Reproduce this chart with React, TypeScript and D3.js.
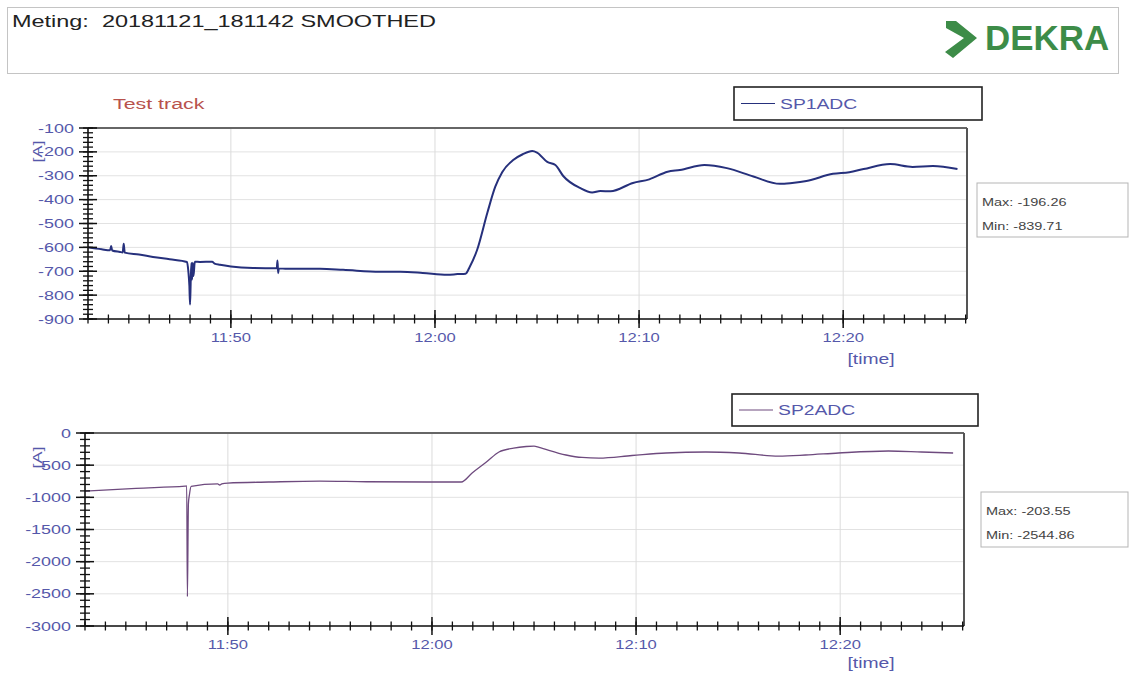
import React from 'react';
import * as d3 from 'd3';

const sp1Times = [
  '11:43:00', '11:43:40', '11:44:05', '11:44:08', '11:44:11', '11:44:34', '11:44:42', '11:44:45', '11:44:48',
  '11:45:30', '11:46:11', '11:47:00', '11:47:51', '11:47:55', '11:47:58', '11:48:00', '11:48:02', '11:48:04',
  '11:48:06', '11:48:08', '11:48:10', '11:48:14', '11:48:29', '11:49:05', '11:49:12', '11:49:28', '11:50:00',
  '11:51:05', '11:52:15', '11:52:17', '11:52:19', '11:52:21', '11:52:45', '11:54:22', '11:55:30', '11:57:18',
  '11:58:18', '11:59:24', '12:00:36', '12:01:06', '12:01:30', '12:01:42', '12:02:04', '12:02:34', '12:02:57',
  '12:03:18', '12:03:50', '12:04:18', '12:04:46', '12:05:00', '12:05:30', '12:05:54', '12:06:17', '12:07:06',
  '12:07:42', '12:08:06', '12:08:36', '12:09:42', '12:10:30', '12:11:24', '12:12:00', '12:13:12', '12:14:18',
  '12:15:36', '12:16:54', '12:17:30', '12:18:12', '12:19:30', '12:20:18', '12:21:00', '12:22:18', '12:23:24',
  '12:24:24', '12:25:36',
];
const sp1Values = [
  -600, -608, -612, -594, -613, -619, -621, -585, -622,
  -630, -640, -650, -661, -700, -760, -839.71, -740, -665,
  -735, -664, -720, -660, -661, -660, -668, -673, -680,
  -686, -687, -655, -708, -688, -690, -690, -694, -702,
  -702, -707, -715, -712, -710, -682, -610, -455, -347,
  -284, -234, -210, -196.26, -203, -242, -255, -301, -351,
  -370, -364, -365, -330, -315, -283, -276, -255, -268,
  -303, -334, -330, -322, -292, -285, -272, -251, -263,
  -259, -272,
];

const sp2Times = [
  '11:43:00', '11:45:30', '11:47:54', '11:47:59', '11:48:01', '11:48:04', '11:48:07', '11:48:12', '11:49:30',
  '11:49:36', '11:49:42', '11:50:00', '11:52:00', '11:54:30', '11:56:47', '12:00:01', '12:01:26', '12:01:58',
  '12:02:40', '12:03:17', '12:04:00', '12:04:37', '12:05:00', '12:05:15', '12:06:34', '12:07:21', '12:08:11',
  '12:09:48', '12:11:28', '12:13:25', '12:15:02', '12:16:59', '12:18:18', '12:19:55', '12:22:22', '12:23:59',
  '12:25:32',
];
const sp2Values = [
  -902, -860, -826, -824, -2544.86, -1100, -960, -830, -792,
  -808, -790, -778, -762, -748, -758, -762, -762, -622,
  -451, -295, -235, -210, -203.55, -225, -342, -380, -389,
  -350, -311, -295, -311, -358, -342, -311, -280, -295,
  -311,
];

const xTickLabels = ['11:50', '12:00', '12:10', '12:20'];
const sp1YTicks = [-100, -200, -300, -400, -500, -600, -700, -800, -900];
const sp2YTicks = [0, -500, -1000, -1500, -2000, -2500, -3000];

const FONT = 'Liberation Sans, Arial, sans-serif';
const STRETCH = 1.38;
const LABEL = '#5558aa';

const parse = d3.timeParse('%H:%M:%S');
const xDomain: [Date, Date] = [parse('11:43:00')!, parse('12:26:04')!];

const T = ({ x, y, size, fill, anchor = 'start', weight = 'normal', sx = STRETCH, rotate = 0, children }: any) => (
  <text
    transform={`translate(${x},${y}) rotate(${rotate}) scale(${sx},1)`}
    fontFamily={FONT}
    fontSize={size}
    fill={fill}
    textAnchor={anchor}
    fontWeight={weight}
  >
    {children}
  </text>
);

interface PanelProps {
  left: number; right: number; top: number; bottom: number;
  yDomain: [number, number];
  yTicks: number[];
  yMinorStep: number;
  times: string[];
  values: number[];
  color: string;
  lineWidth: number;
  name: string;
  legend: { x: number; y: number; w: number; h: number };
  stats: { x: number; y: number; w: number; h: number };
  timeLabelY: number;
}

const Panel = (p: PanelProps) => {
  const x = d3.scaleTime().domain(xDomain).range([p.left, p.right]);
  const y = d3.scaleLinear().domain(p.yDomain).range([p.bottom, p.top]);
  const pts = p.times.map((t, i) => ({ t: parse(t)!, v: p.values[i] }));
  const line = d3.line<{ t: Date; v: number }>()
    .x(d => x(d.t))
    .y(d => y(d.v))
    .curve(d3.curveMonotoneX);
  const minorX = d3.timeMinute.every(1)!.range(xDomain[0], xDomain[1]);
  const minorY = d3.range(p.yDomain[0], p.yDomain[1] + 0.001, p.yMinorStep);
  const majorX = xTickLabels.map(l => parse(l + ':00')!);
  const vmax = d3.max(p.values)!;
  const vmin = d3.min(p.values)!;

  return (
    <g>
      {/* grid */}
      {p.yTicks.map(v => (
        <line key={'gy' + v} x1={p.left} x2={p.right} y1={y(v)} y2={y(v)} stroke="#e2e2e2" strokeWidth={1} />
      ))}
      {majorX.map((d, i) => (
        <line key={'gx' + i} x1={x(d)} x2={x(d)} y1={p.top} y2={p.bottom} stroke="#dcdcdc" strokeWidth={1} />
      ))}
      {/* frame */}
      <line x1={p.left} x2={p.right} y1={p.top} y2={p.top} stroke="#666" strokeWidth={2} />
      <line x1={p.right} x2={p.right} y1={p.top} y2={p.bottom} stroke="#555" strokeWidth={2} />

      {/* series */}
      <path d={line(pts) || ''} fill="none" stroke={p.color} strokeWidth={p.lineWidth} strokeLinejoin="round" />

      {/* axes */}
      <line x1={p.left} x2={p.left} y1={p.top} y2={p.bottom} stroke="#111" strokeWidth={1.6} />
      <line x1={p.left} x2={p.right} y1={p.bottom} y2={p.bottom} stroke="#111" strokeWidth={1.6} />
      {minorY.map(v => (
        <line key={'my' + v} x1={p.left - 5} x2={p.left + 5} y1={y(v)} y2={y(v)} stroke="#111" strokeWidth={1.3} />
      ))}
      {p.yTicks.map(v => (
        <line key={'My' + v} x1={p.left - 9} x2={p.left + 9} y1={y(v)} y2={y(v)} stroke="#111" strokeWidth={1.5} />
      ))}
      {minorX.map((d, i) => (
        <line key={'mx' + i} x1={x(d)} x2={x(d)} y1={p.bottom - 4.5} y2={p.bottom + 4.5} stroke="#111" strokeWidth={1.3} />
      ))}
      {majorX.map((d, i) => (
        <line key={'Mx' + i} x1={x(d)} x2={x(d)} y1={p.bottom - 9} y2={p.bottom + 9} stroke="#111" strokeWidth={1.5} />
      ))}

      {/* tick labels */}
      {p.yTicks.map(v => (
        <T key={'ly' + v} x={p.left - 14} y={y(v) + 4.5} size={13} fill={LABEL} anchor="end">{String(v)}</T>
      ))}
      {majorX.map((d, i) => (
        <T key={'lx' + i} x={x(d)} y={p.bottom + 23} size={12} fill={LABEL} anchor="middle">{xTickLabels[i]}</T>
      ))}
      <T x={871} y={p.timeLabelY} size={14} fill={LABEL} anchor="middle">[time]</T>
      <T x={42} y={(p.top + p.bottom) / 2 - 72} size={13} fill={LABEL} anchor="middle" rotate={-90}>[A]</T>

      {/* legend */}
      <rect x={p.legend.x} y={p.legend.y} width={p.legend.w} height={p.legend.h} fill="#fff" stroke="#222" strokeWidth={1.6} />
      <line x1={p.legend.x + 7} x2={p.legend.x + 41} y1={p.legend.y + p.legend.h / 2} y2={p.legend.y + p.legend.h / 2} stroke={p.color} strokeWidth={1.2} />
      <T x={p.legend.x + 46} y={p.legend.y + p.legend.h / 2 + 5} size={14} fill={LABEL}>{p.name}</T>

      {/* max / min box */}
      <rect x={p.stats.x} y={p.stats.y} width={p.stats.w} height={p.stats.h} fill="#fff" stroke="#b5b5b5" strokeWidth={1} />
      <T x={p.stats.x + 5} y={p.stats.y + 23} size={10.5} fill="#444">{`Max: ${vmax.toFixed(2)}`}</T>
      <T x={p.stats.x + 5} y={p.stats.y + 47} size={10.5} fill="#444">{`Min: ${vmin.toFixed(2)}`}</T>
    </g>
  );
};

export default function App() {
  return (
    <svg width={1130} height={678} style={{ position: 'absolute', left: 0, top: 0, background: '#fff' }}>
      <rect x={0} y={0} width={1130} height={678} fill="#fff" />
      {/* header */}
      <rect x={7.5} y={7.5} width={1111} height={66} fill="none" stroke="#c4c4c4" strokeWidth={1} />
      <T x={12} y={27} size={17} fill="#222">{'Meting:\u00a0 20181121_181142 SMOOTHED'}</T>
      <path d="M946,21 L956,21 L977,38 L953,58 L945,52 L964,38 L946,28 Z" fill="#3d8c48" />
      <T x={985} y={50} size={36} fill="#3d8c48" weight="bold" sx={0.97}>DEKRA</T>

      <T x={113} y={109} size={15.5} fill="#b8524c">Test track</T>

      <Panel
        left={88} right={967} top={128} bottom={319}
        yDomain={[-900, -100]} yTicks={sp1YTicks} yMinorStep={20}
        times={sp1Times} values={sp1Values}
        color="#26307c" lineWidth={2}
        name="SP1ADC"
        legend={{ x: 734, y: 87, w: 248, h: 33 }}
        stats={{ x: 977, y: 183, w: 151, h: 54 }}
        timeLabelY={364}
      />
      <Panel
        left={85} right={964} top={433} bottom={626}
        yDomain={[-3000, 0]} yTicks={sp2YTicks} yMinorStep={100}
        times={sp2Times} values={sp2Values}
        color="#6e4a7e" lineWidth={1.3}
        name="SP2ADC"
        legend={{ x: 732, y: 394, w: 246, h: 32 }}
        stats={{ x: 981, y: 492, w: 147, h: 55 }}
        timeLabelY={668}
      />
    </svg>
  );
}
